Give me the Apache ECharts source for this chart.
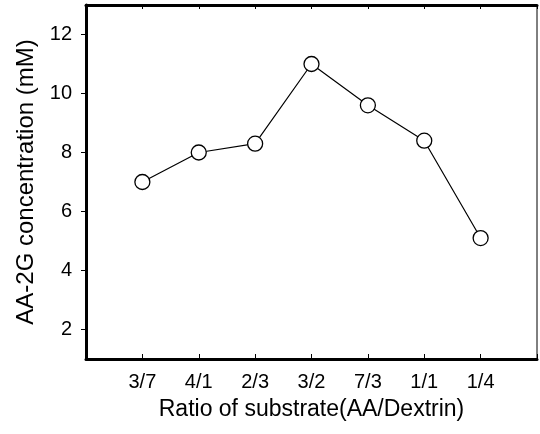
<!DOCTYPE html>
<html><head><meta charset="utf-8">
<script src="https://cdn.jsdelivr.net/npm/echarts@6/dist/echarts.min.js"></script>
<style>html,body{margin:0;padding:0;background:#fff}#c{width:540px;height:434px}</style>
</head><body><div id="c"></div>
<script>
var categories = ['', '3/7', '4/1', '2/3', '3/2', '7/3', '1/1', '1/4', ''];
var concentration = [null, 7.0, 8.0, 8.3, 11.0, 9.6, 8.4, 5.1, null];
var yTicks = [2, 4, 6, 8, 10, 12];

var chart = echarts.init(document.getElementById('c'), null, {renderer: 'canvas'});
var font = 'Liberation Sans, Arial, sans-serif';
chart.setOption({
  animation: false,
  backgroundColor: '#fff',
  grid: {left: 86, top: 5, right: 1, bottom: 75, show: true, borderColor: '#000', borderWidth: 1},
  xAxis: [{
    type: 'category', data: categories, boundaryGap: false, position: 'bottom',
    axisLine: {lineStyle: {color: '#000', width: 3}},
    axisTick: {inside: true, length: 5, lineStyle: {color: '#000', width: 1}},
    axisLabel: {color: '#000', fontSize: 20, fontFamily: font, margin: 13},
    name: 'Ratio of substrate(AA/Dextrin)', nameLocation: 'middle', nameGap: 39,
    nameTextStyle: {color: '#000', fontSize: 23, fontFamily: font}
  }, {
    type: 'category', data: categories, boundaryGap: false, position: 'top',
    axisLine: {lineStyle: {color: '#000', width: 3}},
    axisTick: {inside: true, length: 4, lineStyle: {color: '#000', width: 1}},
    axisLabel: {show: false}
  }],
  yAxis: {
    type: 'value', min: 1, max: 13,
    axisLine: {show: true, lineStyle: {color: '#000', width: 3}},
    axisTick: {show: true, length: 5, customValues: yTicks, lineStyle: {color: '#000', width: 1}},
    axisLabel: {color: '#000', fontSize: 20, fontFamily: font, margin: 14, customValues: yTicks},
    splitLine: {show: false},
    name: 'AA-2G concentration (mM)', nameLocation: 'middle', nameGap: 47,
    nameTextStyle: {color: '#000', fontSize: 24, fontFamily: font}
  },
  series: [{
    type: 'line', data: concentration, xAxisIndex: 0,
    symbol: 'circle', symbolSize: 15, showAllSymbol: true,
    lineStyle: {color: '#000', width: 1.2},
    itemStyle: {color: '#fff', borderColor: '#000', borderWidth: 1.3}
  }]
});
</script></body></html>
